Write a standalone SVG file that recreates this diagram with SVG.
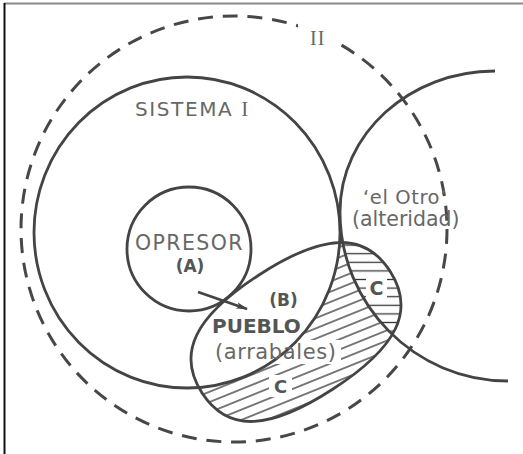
<svg xmlns="http://www.w3.org/2000/svg" width="523" height="454" viewBox="0 0 523 454">
<style>
  .ln{fill:none;stroke:#444;stroke-width:2.8}
  .dash{fill:none;stroke:#474747;stroke-width:3;stroke-dasharray:15 9.8}
  .lbl{font-family:"DejaVu Sans","Liberation Sans",sans-serif;fill:#676767}
  .bld{font-family:"DejaVu Sans","Liberation Sans",sans-serif;font-weight:bold;fill:#555}
  .rom{font-family:"Liberation Serif","DejaVu Serif",serif;fill:#676767}
  .hl{stroke:#363636;stroke-width:1.3}
</style>
<defs>
  <!-- rounded, tilted outline of the PUEBLO region -->
  <path id="pueblo-shape" transform="translate(296 332) rotate(-33)" d="M112 0C112 46.8 77 68 0 68C-77 68-112 46.8-112 0C-112-46.8-77-68 0-68C77-68 112-46.8 112 0Z"/>
  <!-- right-hand circle, closed off along the page edge -->
  <path id="otro-area" d="M495 71C409.4 71 340 134.2 340 212C340 305 415 381 508 381L523 381L523 71Z"/>
  <pattern id="hatch-slant" patternUnits="userSpaceOnUse" width="20" height="9.5" patternTransform="rotate(-22)">
    <line class="hl" x1="0" y1="4.75" x2="20" y2="4.75"/>
  </pattern>
  <pattern id="hatch-flat" patternUnits="userSpaceOnUse" width="20" height="8.6">
    <line class="hl" x1="0" y1="4.3" x2="20" y2="4.3"/>
  </pattern>
  <clipPath id="otro-clip"><use href="#otro-area"/></clipPath>
  <g id="label-gaps">
    <rect x="213" y="340" width="128" height="24"/>
    <rect x="366" y="276" width="21" height="23"/>
    <rect x="269" y="375" width="23" height="22"/>
  </g>
  <mask id="mask-outer" maskUnits="userSpaceOnUse" x="0" y="0" width="523" height="454">
    <use href="#pueblo-shape" fill="#fff"/>
    <ellipse cx="187" cy="232.5" rx="153" ry="155.5" fill="#000"/>
    <use href="#otro-area" fill="#000"/>
    <use href="#label-gaps" fill="#000"/>
  </mask>
  <mask id="mask-otro" maskUnits="userSpaceOnUse" x="0" y="0" width="523" height="454">
    <use href="#pueblo-shape" fill="#fff"/>
    <ellipse cx="187" cy="232.5" rx="153" ry="155.5" fill="#000"/>
    <use href="#label-gaps" fill="#000"/>
  </mask>
  <marker id="arrowhead" markerUnits="userSpaceOnUse" markerWidth="12" markerHeight="8" refX="11" refY="4" orient="auto">
    <path d="M0 0.8L12 4L0 7.2L3 4Z" fill="#444"/>
  </marker>
</defs>

<!-- page frame -->
<line x1="4" y1="3.5" x2="523" y2="3.5" stroke="#8a8a8a" stroke-width="2"/>
<line x1="4.5" y1="3" x2="4.5" y2="454" stroke="#111" stroke-width="2"/>

<!-- hatched zones C -->
<g id="zone-c">
  <rect x="180" y="230" width="230" height="200" fill="url(#hatch-slant)" mask="url(#mask-outer)"/>
  <g clip-path="url(#otro-clip)">
    <rect x="330" y="230" width="80" height="130" fill="url(#hatch-flat)" mask="url(#mask-otro)"/>
  </g>
  <text class="bld" x="376.5" y="295" font-size="19" text-anchor="middle">C</text>
  <text class="bld" x="280.5" y="393" font-size="18" text-anchor="middle">C</text>
</g>

<g id="sistema-ii">
  <circle class="dash" cx="234" cy="229" r="213"/>
  <rect x="298" y="24" width="37" height="24" fill="#fff"/>
  <text class="rom" x="310" y="45" font-size="20" letter-spacing="1">II</text>
</g>

<g id="sistema-i">
  <ellipse class="ln" cx="187" cy="232.5" rx="153" ry="155.5"/>
  <text class="lbl" x="135" y="116" font-size="20" letter-spacing="1.6">SISTEMA <tspan class="rom" font-size="21" letter-spacing="0">I</tspan></text>
</g>

<g id="otro">
  <path class="ln" d="M495 71C409.4 71 340 134.2 340 212C340 305 415 381 508 381"/>
  <text class="lbl" x="363" y="203.5" font-size="19.5" letter-spacing="0.6">‘el Otro’</text>
  <text class="lbl" x="352" y="226" font-size="20.5">(alteridad)</text>
</g>

<g id="opresor">
  <circle class="ln" cx="189" cy="249" r="62"/>
  <text class="lbl" x="135" y="250" font-size="20.5" letter-spacing="1.4">OPRESOR</text>
  <text class="bld" x="190" y="272" font-size="17" text-anchor="middle">(A)</text>
</g>

<g id="pueblo">
  <use href="#pueblo-shape" class="ln"/>
  <text class="bld" x="283.5" y="306" font-size="17" text-anchor="middle">(B)</text>
  <text class="bld" x="212" y="333" font-size="20">PUEBLO</text>
  <text class="lbl" x="215" y="359" font-size="21" letter-spacing="0.6">(arrabales)</text>
</g>

<g id="connectors">
  <line x1="198" y1="292" x2="247" y2="309" stroke="#444" stroke-width="2.6" marker-end="url(#arrowhead)"/>
</g>
</svg>
